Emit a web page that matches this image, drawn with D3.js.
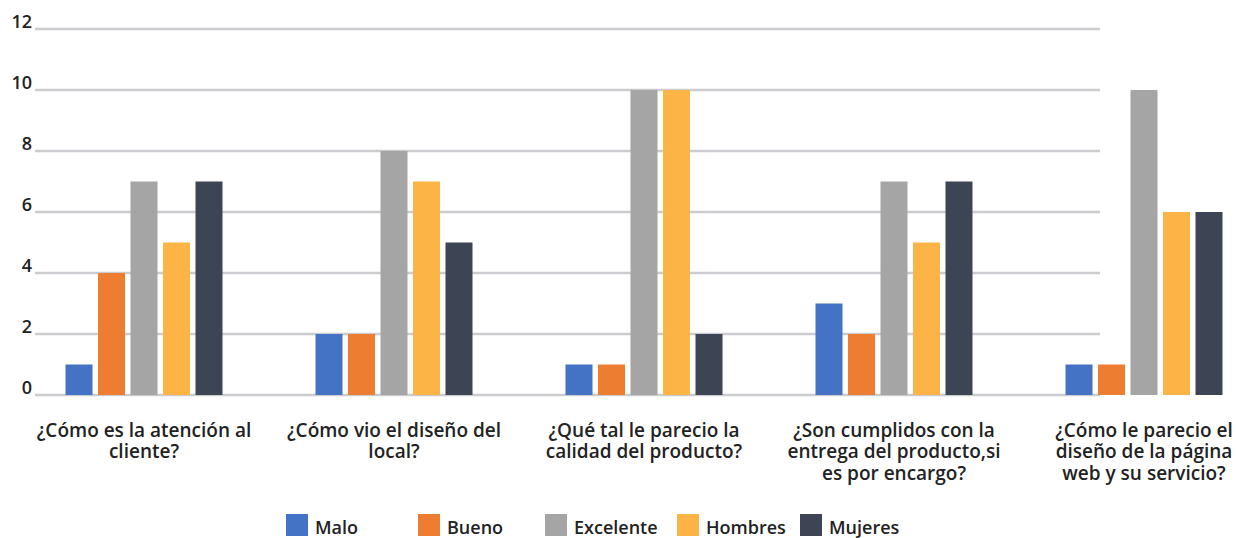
<!DOCTYPE html>
<html>
<head>
<meta charset="utf-8">
<script src="https://cdn.jsdelivr.net/npm/d3@7"></script>
<style>
  body { margin: 0; background: #fff; }
  svg text { font-family: "Open Sans", Lato, sans-serif; font-weight: 600; fill: #222; }
</style>
</head>
<body>
<div id="chart"></div>
<script>
(function() {
'use strict';

var categories = [
    '¿Cómo es la atención al cliente?',
    '¿Cómo vio el diseño del local?',
    '¿Qué tal le parecio la calidad del producto?',
    '¿Son cumplidos con la entrega del producto,si es por encargo?',
    '¿Cómo le parecio el diseño de la página web y su servicio?'
];
var labelLines = [
    ['¿Cómo es la atención al', 'cliente?'],
    ['¿Cómo vio el diseño del', 'local?'],
    ['¿Qué tal le parecio la', 'calidad del producto?'],
    ['¿Son cumplidos con la', 'entrega del producto,si', 'es por encargo?'],
    ['¿Cómo le parecio el', 'diseño de la página', 'web y su servicio?']
];
var seriesNames = ['Malo', 'Bueno', 'Excelente', 'Hombres', 'Mujeres'];
var malo = [1, 2, 1, 3, 1];
var bueno = [4, 2, 1, 2, 1];
var excelente = [7, 8, 10, 7, 10];
var hombres = [5, 7, 10, 5, 6];
var mujeres = [7, 5, 2, 7, 6];
var yTicks = [0, 2, 4, 6, 8, 10, 12];
var colors = ['#4472c4', '#ed7d31', '#a6a5a6', '#fcb447', '#3d4453'];

var series = [malo, bueno, excelente, hombres, mujeres];

var width = 1236, height = 538;

var svg = d3.select('#chart').append('svg')
    .attr('width', width).attr('height', height);

var x0 = d3.scaleBand().domain(categories)
    .range([19, 1269]).paddingInner(0.372).paddingOuter(0.186);
var x1 = d3.scaleBand().domain(seriesNames)
    .range([0, x0.bandwidth()]).paddingInner(0.169);
var y = d3.scaleLinear().domain([0, 12]).range([395, 29]);
var color = d3.scaleOrdinal().domain(seriesNames).range(colors);

// grid lines + y labels
var grid = svg.append('g').selectAll('g').data(yTicks).enter().append('g');
grid.append('line')
    .attr('x1', 35).attr('x2', 1100)
    .attr('y1', function (d) { return y(d); })
    .attr('y2', function (d) { return y(d); })
    .attr('stroke', '#caccd0').attr('stroke-width', 2.5);
grid.append('text')
    .attr('x', 32).attr('y', function (d) { return y(d) - 1; })
    .attr('text-anchor', 'end')
    .style('font-size', '18px')
    .text(function (d) { return d; });

// bars
var groups = svg.append('g').selectAll('g')
    .data(categories).enter().append('g')
    .attr('transform', function (d) { return 'translate(' + x0(d) + ',0)'; });

groups.selectAll('rect')
    .data(function (d, i) {
        return seriesNames.map(function (s, j) { return { key: s, value: series[j][i] }; });
    })
    .enter().append('rect')
    .attr('x', function (d) { return x1(d.key); })
    .attr('width', x1.bandwidth())
    .attr('y', function (d) { return y(d.value); })
    .attr('height', function (d) { return y(0) - y(d.value); })
    .attr('fill', function (d) { return color(d.key); });

// category labels, one text per line
var labels = svg.append('g').selectAll('g')
    .data(categories).enter().append('g')
    .attr('transform', function (d) {
        return 'translate(' + (x0(d) + x0.bandwidth() / 2) + ',0)';
    });
labels.selectAll('text')
    .data(function (d, i) { return labelLines[i]; })
    .enter().append('text')
    .attr('text-anchor', 'middle')
    .attr('y', function (d, k) { return 437 + k * 21.3; })
    .style('font-size', '19px')
    .text(function (d) { return d; });

// legend
var legendX = [286, 418, 545, 677, 800];
var legend = svg.append('g').selectAll('g')
    .data(seriesNames).enter().append('g')
    .attr('transform', function (d, i) { return 'translate(' + legendX[i] + ',514)'; });
legend.append('rect')
    .attr('width', 22).attr('height', 22)
    .attr('fill', function (d) { return color(d); });
legend.append('text')
    .attr('x', 29).attr('y', 20)
    .style('font-size', '18px')
    .text(function (d) { return d; });

})();
</script>
</body>
</html>
